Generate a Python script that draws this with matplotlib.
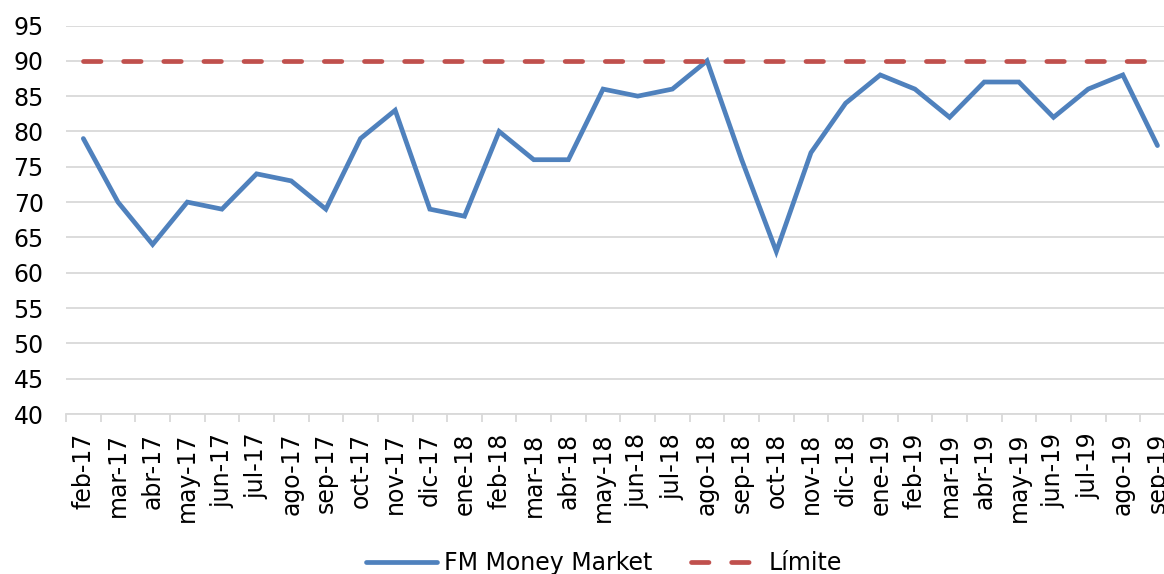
import matplotlib
matplotlib.use("Agg")
import matplotlib.pyplot as plt
import numpy as np

months = ["feb-17", "mar-17", "abr-17", "may-17", "jun-17", "jul-17", "ago-17", "sep-17",
          "oct-17", "nov-17", "dic-17", "ene-18", "feb-18", "mar-18", "abr-18", "may-18",
          "jun-18", "jul-18", "ago-18", "sep-18", "oct-18", "nov-18", "dic-18", "ene-19",
          "feb-19", "mar-19", "abr-19", "may-19", "jun-19", "jul-19", "ago-19", "sep-19"]
money_market = [79, 70, 64, 70, 69, 74, 73, 69, 79, 83, 69, 68, 80, 76, 76, 86,
                 85, 86, 90, 76, 63, 77, 84, 88, 86, 82, 87, 87, 82, 86, 88, 78]
limite = [90] * len(months)

plt.rcParams['font.family'] = ['DejaVu Sans']

W, H = 1164, 574
fig = plt.figure(figsize=(W / 100, H / 100), dpi=100)
# plot area runs past the right edge like the original (last label clipped)
ax = fig.add_axes([66 / W, (H - 414) / H, 34.65 * 32 / W, 388.5 / H])

x = np.arange(len(months))
ax.plot(x, money_market, color='#4F81BD', lw=3.4, solid_capstyle='round',
        solid_joinstyle='miter', label='FM Money Market', zorder=3)
ax.plot(x, limite, color='#C0504D', lw=3.4, dashes=(3.7, 4.8),
        dash_capstyle='round', label='Límite', zorder=3)

ax.set_xlim(-0.5, len(months) - 0.5)
ax.set_ylim(40, 95)
ax.set_yticks(range(40, 96, 5))
ax.yaxis.grid(True, color='#D9D9D9', lw=1.3)
ax.set_axisbelow(True)

ax.set_xticks(x)
ax.set_xticklabels(months, rotation=90)
ax.set_xticks(np.arange(-0.5, len(months), 1), minor=True)
ax.tick_params(axis='x', which='major', length=0, pad=13.5, labelsize=17)
ax.tick_params(axis='x', which='minor', length=5.5, color='#D9D9D9', width=1.3)
ax.tick_params(axis='y', length=0, pad=16, labelsize=17)

for s in ['top', 'right', 'left']:
    ax.spines[s].set_visible(False)
ax.spines['bottom'].set_color('#D9D9D9')
ax.spines['bottom'].set_linewidth(1.3)

fig.legend(loc='center', bbox_to_anchor=(0.519, 0.019), ncol=2, frameon=False,
           fontsize=17, handlelength=3.0, handletextpad=0.3, columnspacing=1.6)

fig.savefig('out.png', dpi=100)
